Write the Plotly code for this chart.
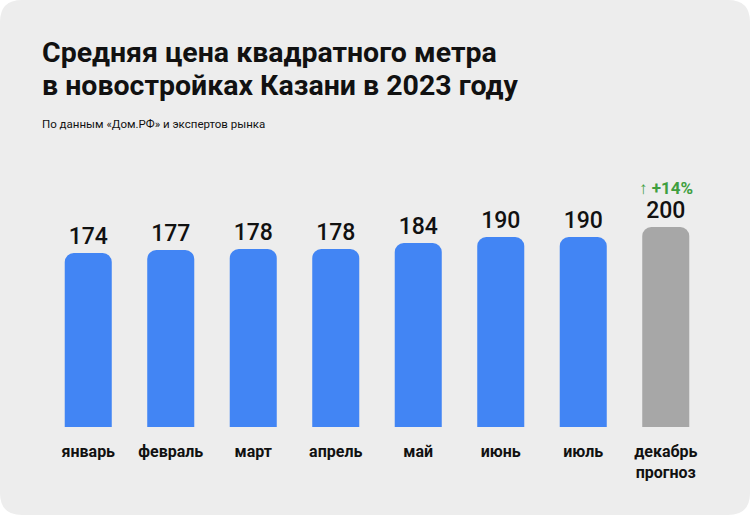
import plotly.graph_objects as go

months = ["январь", "февраль", "март", "апрель", "май", "июнь", "июль", "декабрь<br>прогноз"]
prices = [174, 177, 178, 178, 184, 190, 190, 200]
forecast_change = "↑ +14%"
title_lines = ["Средняя цена квадратного метра", "в новостройках Казани в 2023 году"]
subtitle = "По данным «Дом.РФ» и экспертов рынка"

BLUE = "#4285f4"
GRAY = "#a7a7a7"
BG = "#ededed"
colors = [BLUE] * (len(months) - 1) + [GRAY]

W, H = 750, 515
ML, MR, MT, MB = 47, 43, 177, 88
PW, PH = W - ML - MR, H - MT - MB


def px(x):
    return (x - ML) / PW


def py(y):
    return (H - MB - y) / PH


fig = go.Figure(go.Bar(
    x=months, y=prices,
    marker=dict(color=colors, line=dict(width=0)),
    text=[str(v) for v in prices],
    textposition="outside",
    textfont=dict(family="Roboto", size=23, color="#111111", weight=500),
    cliponaxis=False,
))

R = 22
path = (f"M {px(R)},{py(0)} L {px(W-R)},{py(0)} Q {px(W)},{py(0)} {px(W)},{py(R)} "
        f"L {px(W)},{py(H-R)} Q {px(W)},{py(H)} {px(W-R)},{py(H)} "
        f"L {px(R)},{py(H)} Q {px(0)},{py(H)} {px(0)},{py(H-R)} "
        f"L {px(0)},{py(R)} Q {px(0)},{py(0)} {px(R)},{py(0)} Z")

title_ann = [
    dict(text=t, xref="paper", yref="paper", x=px(40), y=py(yc), xanchor="left", yanchor="middle",
         align="left", showarrow=False,
         font=dict(family="Roboto", size=28.5, color="#111111", weight="bold"))
    for t, yc in zip(title_lines, [52, 86])
]

fig.update_layout(
    width=W, height=H,
    margin=dict(l=ML, r=MR, t=MT, b=MB),
    paper_bgcolor="white",
    plot_bgcolor="rgba(0,0,0,0)",
    bargap=0.43,
    barcornerradius=9,
    showlegend=False,
    font=dict(family="Roboto", color="#111111"),
    xaxis=dict(
        showgrid=False, zeroline=False, showline=False, ticks="",
        tickfont=dict(family="Roboto", size=16, color="#111111", weight="bold"),
        ticklabelstandoff=13,
    ),
    yaxis=dict(range=[0, PH], visible=False, fixedrange=True),
    shapes=[dict(type="path", path=path, xref="paper", yref="paper",
                 fillcolor=BG, line=dict(width=0), layer="below")],
    annotations=title_ann + [
        dict(text=subtitle,
             xref="paper", yref="paper", x=px(40), y=py(124), xanchor="left", yanchor="middle",
             align="left", showarrow=False,
             font=dict(family="Roboto", size=11.5, color="#111111")),
        dict(text=forecast_change, x=months[-1], y=prices[-1], yshift=39,
             xanchor="center", yanchor="middle", showarrow=False,
             font=dict(family="Roboto", size=17, color="#3f9f3f", weight="bold")),
    ],
)

fig.write_html("out.html", config={"displayModeBar": False})
